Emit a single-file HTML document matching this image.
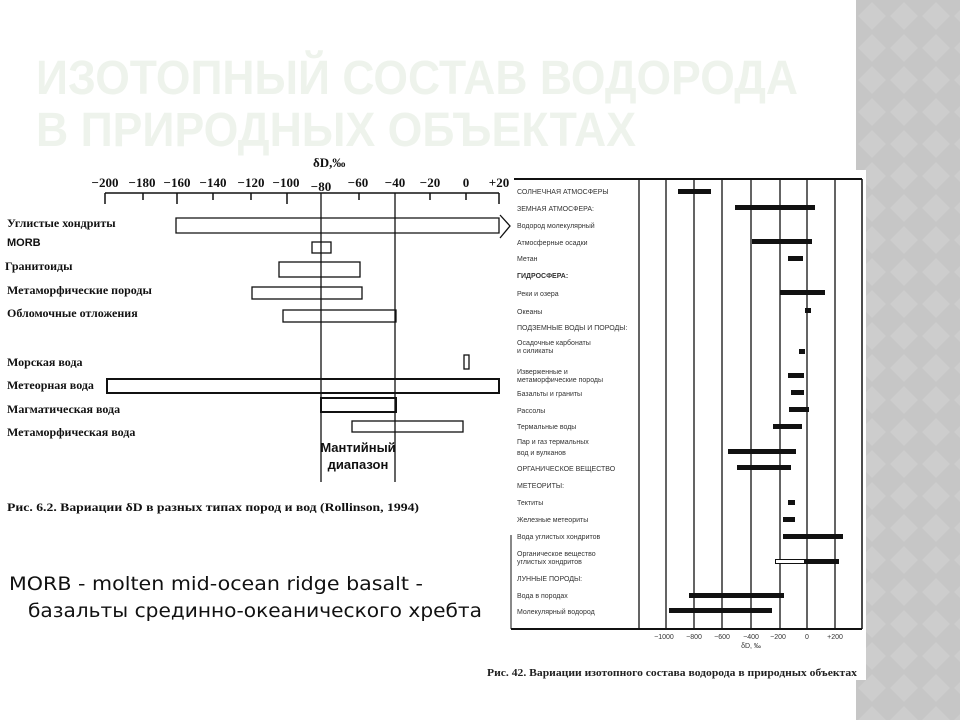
<!DOCTYPE html>
<html><head><meta charset="utf-8"><style>
html,body{margin:0;padding:0;background:#fff;}
svg{display:block;}
</style></head><body>
<svg width="960" height="720" viewBox="0 0 960 720" xmlns="http://www.w3.org/2000/svg">
<defs>
<pattern id="dm" width="32" height="32" patternUnits="userSpaceOnUse" x="856">
<rect width="32" height="32" fill="#c6c6c6"/>
<path d="M16 2 L30 16 L16 30 L2 16 Z" fill="#cdcdcd"/>
</pattern>
</defs>
<rect x="856" y="0" width="104" height="720" fill="url(#dm)"/>
<rect x="480" y="170" width="386" height="510" fill="#fff"/>

<!-- title -->
<g font-family="'Liberation Sans','DejaVu Sans',sans-serif" font-weight="bold" font-size="48" fill="#eef3ec">
<text x="36" y="94" textLength="762" lengthAdjust="spacingAndGlyphs">ИЗОТОПНЫЙ СОСТАВ ВОДОРОДА</text>
<text x="36" y="146" textLength="600" lengthAdjust="spacingAndGlyphs">В ПРИРОДНЫХ ОБЪЕКТАХ</text>
</g>

<!-- LEFT CHART -->
<g font-family="'Liberation Serif',serif" font-weight="bold" fill="#111">
<text x="313" y="167" font-size="13">δD,‰</text>
<g font-size="13" text-anchor="middle">
<text x="105" y="187">−200</text><text x="142" y="187">−180</text><text x="177" y="187">−160</text>
<text x="213" y="187">−140</text><text x="251" y="187">−120</text><text x="286" y="187">−100</text>
<text x="321" y="191">−80</text><text x="358" y="187">−60</text><text x="395" y="187">−40</text>
<text x="430" y="187">−20</text><text x="466" y="187">0</text><text x="499" y="187">+20</text>
</g>
</g>
<g stroke="#111" fill="none">
<line x1="105" y1="193" x2="499" y2="193" stroke-width="1.5"/>
<g stroke-width="1.5">
<line x1="105" y1="193" x2="105" y2="204"/><line x1="143" y1="193" x2="143" y2="200"/>
<line x1="177" y1="193" x2="177" y2="204"/><line x1="213" y1="193" x2="213" y2="200"/>
<line x1="251" y1="193" x2="251" y2="200"/><line x1="287" y1="193" x2="287" y2="204"/>
<line x1="359" y1="193" x2="359" y2="200"/><line x1="430" y1="193" x2="430" y2="200"/>
<line x1="466" y1="193" x2="466" y2="200"/><line x1="499" y1="193" x2="499" y2="204"/>
</g>
<line x1="321" y1="193" x2="321" y2="482" stroke-width="1.3"/>
<line x1="395" y1="193" x2="395" y2="482" stroke-width="1.3"/>
<g stroke-width="1.3">
<path d="M176 218 H499 V233 H176 Z"/>
<path d="M500 215 L510 226 L500 238"/>
<rect x="312" y="242" width="19" height="11"/>
<rect x="279" y="262" width="81" height="15"/>
<rect x="252" y="287" width="110" height="12"/>
<rect x="283" y="310" width="113" height="12"/>
<rect x="464" y="355" width="5" height="14"/>
<rect x="352" y="421" width="111" height="11"/>
</g>
<g stroke-width="2">
<rect x="107" y="379" width="392" height="14"/>
<rect x="321" y="398" width="75" height="14"/>
</g>
</g>
<g font-family="'Liberation Serif',serif" font-weight="bold" font-size="12" fill="#111">
<text x="7" y="227">Углистые хондриты</text>
<text x="7" y="246" font-family="'Liberation Sans',sans-serif" font-size="11">MORB</text>
<text x="5" y="270">Гранитоиды</text>
<text x="7" y="294">Метаморфические породы</text>
<text x="7" y="317">Обломочные отложения</text>
<text x="7" y="366">Морская вода</text>
<text x="7" y="389">Метеорная вода</text>
<text x="7" y="413">Магматическая вода</text>
<text x="7" y="436">Метаморфическая вода</text>
<text x="7" y="511" font-size="12" textLength="412" lengthAdjust="spacingAndGlyphs">Рис. 6.2. Вариации δD в разных типах пород и вод (Rollinson, 1994)</text>
</g>
<g font-family="'Liberation Sans',sans-serif" font-weight="bold" font-size="13" fill="#111" text-anchor="middle">
<text x="358" y="452">Мантийный</text>
<text x="358" y="469">диапазон</text>
</g>

<!-- bottom text -->
<g font-family="'DejaVu Sans','Liberation Sans',sans-serif" font-size="19" fill="#111">
<text x="9" y="590" textLength="414" lengthAdjust="spacingAndGlyphs">MORB - molten mid-ocean ridge basalt -</text>
<text x="28" y="617" textLength="454" lengthAdjust="spacingAndGlyphs">базальты срединно-океанического хребта</text>
</g>

<!-- RIGHT CHART -->
<g stroke="#111" fill="none">
<line x1="514" y1="179" x2="862" y2="179" stroke-width="2"/>
<line x1="862" y1="179" x2="862" y2="629" stroke-width="1.5"/>
<line x1="511" y1="629" x2="862" y2="629" stroke-width="2"/>
<line x1="511" y1="535" x2="511" y2="629" stroke-width="1"/>
<g stroke-width="1.3">
<line x1="639" y1="179" x2="639" y2="629"/><line x1="666" y1="179" x2="666" y2="629"/>
<line x1="694" y1="179" x2="694" y2="629"/><line x1="722" y1="179" x2="722" y2="629"/>
<line x1="751" y1="179" x2="751" y2="629"/><line x1="780" y1="179" x2="780" y2="629"/>
<line x1="807" y1="179" x2="807" y2="629"/><line x1="835" y1="179" x2="835" y2="629"/>
</g>
</g>
<g fill="#111">
<rect x="678" y="189" width="33" height="5"/>
<rect x="735" y="205" width="80" height="5"/>
<rect x="752" y="239" width="60" height="5"/>
<rect x="788" y="256" width="15" height="5"/>
<rect x="780" y="290" width="45" height="5"/>
<rect x="805" y="308" width="6" height="5"/>
<rect x="799" y="349" width="6" height="5"/>
<rect x="788" y="373" width="16" height="5"/>
<rect x="791" y="390" width="13" height="5"/>
<rect x="789" y="407" width="20" height="5"/>
<rect x="773" y="424" width="29" height="5"/>
<rect x="728" y="449" width="68" height="5"/>
<rect x="737" y="465" width="54" height="5"/>
<rect x="788" y="500" width="7" height="5"/>
<rect x="783" y="517" width="12" height="5"/>
<rect x="783" y="534" width="60" height="5"/>
<rect x="804" y="559" width="35" height="5"/>
<rect x="689" y="593" width="95" height="5"/>
<rect x="669" y="608" width="103" height="5"/>
</g>
<rect x="775.5" y="559.5" width="29" height="4" fill="#fff" stroke="#111" stroke-width="1"/>
<g font-family="'Liberation Sans',sans-serif" font-size="7" fill="#333">
<text x="517" y="194">СОЛНЕЧНАЯ АТМОСФЕРЫ</text>
<text x="517" y="211">ЗЕМНАЯ АТМОСФЕРА:</text>
<text x="517" y="228">Водород молекулярный</text>
<text x="517" y="245">Атмосферные осадки</text>
<text x="517" y="261">Метан</text>
<text x="517" y="278" font-weight="bold">ГИДРОСФЕРА:</text>
<text x="517" y="296">Реки и озера</text>
<text x="517" y="314">Океаны</text>
<text x="517" y="330">ПОДЗЕМНЫЕ ВОДЫ И ПОРОДЫ:</text>
<text x="517" y="345">Осадочные карбонаты</text>
<text x="517" y="353">и силикаты</text>
<text x="517" y="374">Изверженные и</text>
<text x="517" y="382">метаморфические породы</text>
<text x="517" y="396">Базальты и граниты</text>
<text x="517" y="413">Рассолы</text>
<text x="517" y="429">Термальные воды</text>
<text x="517" y="444">Пар и газ термальных</text>
<text x="517" y="455">вод и вулканов</text>
<text x="517" y="471">ОРГАНИЧЕСКОЕ ВЕЩЕСТВО</text>
<text x="517" y="488">МЕТЕОРИТЫ:</text>
<text x="517" y="505">Тектиты</text>
<text x="517" y="522">Железные метеориты</text>
<text x="517" y="539">Вода углистых хондритов</text>
<text x="517" y="556">Органическое вещество</text>
<text x="517" y="564">углистых хондритов</text>
<text x="517" y="581">ЛУННЫЕ ПОРОДЫ:</text>
<text x="517" y="598">Вода в породах</text>
<text x="517" y="614">Молекулярный водород</text>
</g>
<g font-family="'Liberation Sans',sans-serif" font-size="7" fill="#333" text-anchor="middle">
<text x="664" y="639">−1000</text><text x="694" y="639">−800</text><text x="722" y="639">−600</text>
<text x="751" y="639">−400</text><text x="778" y="639">−200</text><text x="807" y="639">0</text>
<text x="835" y="639">+200</text><text x="751" y="648">δD, ‰</text>
</g>
<text x="487" y="676" font-family="'Liberation Serif',serif" font-weight="bold" font-size="10" fill="#222" textLength="370" lengthAdjust="spacingAndGlyphs">Рис. 42. Вариации изотопного состава водорода в природных объектах</text>
</svg>
</body></html>
